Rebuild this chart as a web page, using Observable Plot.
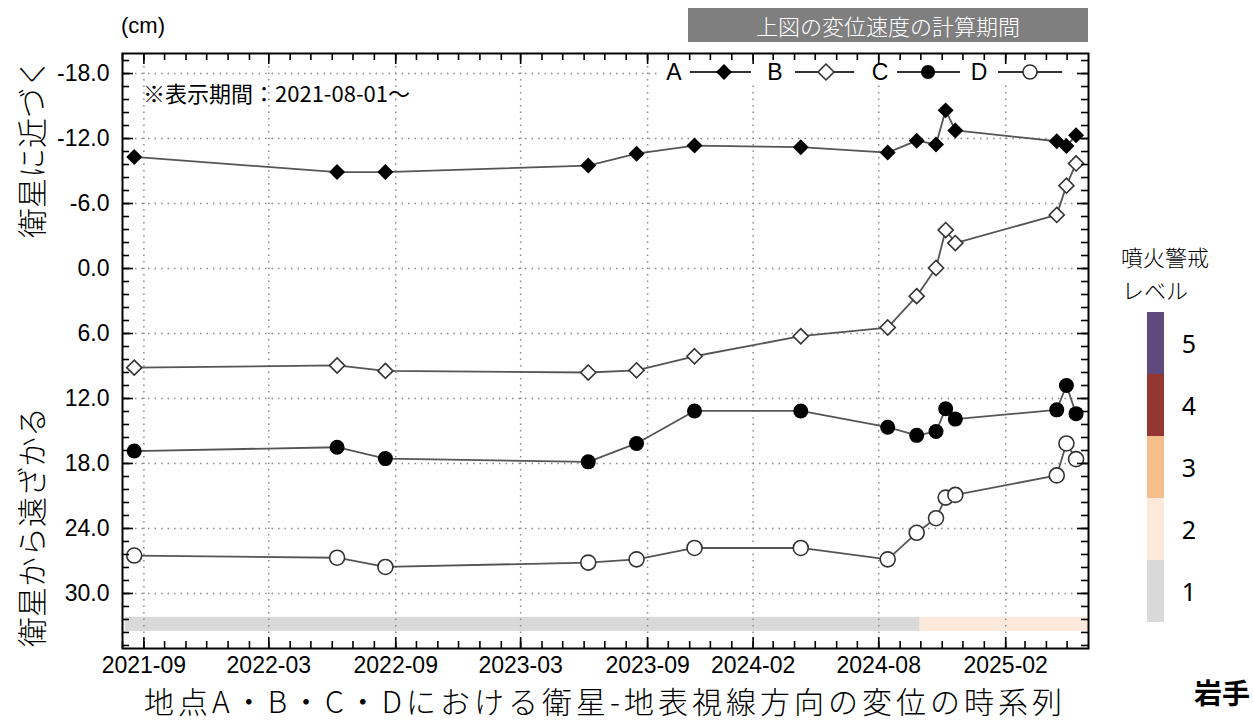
<!DOCTYPE html>
<html><head><meta charset="utf-8">
<script src="https://cdn.jsdelivr.net/npm/d3@7"></script>
<script src="https://cdn.jsdelivr.net/npm/@observablehq/plot@0.6"></script>
<style>
html,body{margin:0;padding:0;background:#fff;overflow:hidden;}
#root{position:relative;width:1253px;height:722px;overflow:hidden;}
#chart{position:absolute;left:0;top:0;}
#overlay{position:absolute;left:0;top:0;pointer-events:none;}
</style></head>
<body><div id="root"><div id="chart"></div><svg id="overlay" width="1253" height="722"></svg></div>
<script>
// ---- data ----
const dates = ["2021-08-18","2022-06-08","2022-08-17","2023-06-07","2023-08-16","2023-11-08","2024-04-10","2024-08-14","2024-09-25","2024-10-23","2024-11-06","2024-11-20","2025-04-16","2025-04-30","2025-05-14"];
const seriesA = [-10.3,-8.9,-8.9,-9.5,-10.6,-11.35,-11.2,-10.7,-11.8,-11.45,-14.6,-12.75,-11.75,-11.3,-12.3];
const seriesB = [9.15,8.95,9.45,9.6,9.4,8.1,6.25,5.45,2.55,-0.05,-3.55,-2.35,-4.95,-7.65,-9.7];
const seriesC = [16.85,16.5,17.55,17.85,16.15,13.15,13.15,14.65,15.4,15.05,12.95,13.9,13.05,10.8,13.4];
const seriesD = [26.5,26.7,27.55,27.15,26.85,25.8,25.8,26.85,24.4,23.05,21.15,20.9,19.1,16.15,17.6];
const seriesNames = ["A","B","C","D"];
const yTicks = [-18,-12,-6,0,6,12,18,24,30];
const xTickLabels = ["2021-09","2022-03","2022-09","2023-03","2023-09","2024-02","2024-08","2025-02"];
const levelStarts = ["2021-08-05","2024-09-30"];
const levelEnds = ["2024-09-30","2025-05-31"];
const levelValues = [1,2];
const levelNames = ["1","2","3","4","5"];
const levelColors = ["#d9d9d9","#fde9dc","#f6bd8d","#943632","#5e4a7c"];

// ---- build ----
const parse = d3.utcParse("%Y-%m-%d");
const seriesVals = {A: seriesA, B: seriesB, C: seriesC, D: seriesD};
const rows = seriesNames.flatMap(s => dates.map((d,i) => ({series: s, date: parse(d), value: seriesVals[s][i]})));
const levels = levelValues.map((lv,i) => ({level: lv, start: parse(levelStarts[i]), end: parse(levelEnds[i])}));
const xMajor = xTickLabels.map(s => d3.utcParse("%Y-%m")(s));
const xDomain = [parse("2021-08-01"), parse("2025-06-01")];
const xMinor = d3.utcMonth.range(xDomain[0], xDomain[1]);
const yMinor = d3.range(-19.2, 35, 1.2).map(v => +v.toFixed(1));

const W = 1253, H = 722, mL = 122, mR = 165, mT = 53, mB = 74;
const fw = W - mL - mR, fh = H - mT - mB;
const grid = {stroke: "#8a8a8a", strokeWidth: 1.5, strokeDasharray: "1.5,5"};
const tk = {stroke: "black", strokeWidth: 1.6};
const rDia = 7.2, rCir = 7.5;

const chart = Plot.plot({
  width: W, height: H,
  marginLeft: mL, marginRight: mR, marginTop: mT, marginBottom: mB,
  style: {fontFamily: "'Liberation Sans', Arial, sans-serif", fontSize: "23px", color: "black", background: "white"},
  x: {type: "utc", domain: xDomain},
  y: {domain: [-19.85, 35.08], reverse: true},
  marks: [
    Plot.rect(levels, {x1: "start", x2: "end", y1: 32.2, y2: 33.5, fill: d => levelColors[d.level - 1]}),
    Plot.ruleY(yTicks, grid),
    Plot.ruleX(xMajor, grid),
    Plot.line(rows, {x: "date", y: "value", z: "series", stroke: "#555", strokeWidth: 1.8}),
    Plot.dot(rows.filter(d => d.series === "A"), {x: "date", y: "value", symbol: "diamond2", r: rDia, fill: "black"}),
    Plot.dot(rows.filter(d => d.series === "B"), {x: "date", y: "value", symbol: "diamond2", r: rDia - 0.4, fill: "white", stroke: "#333", strokeWidth: 1.6}),
    Plot.dot(rows.filter(d => d.series === "C"), {x: "date", y: "value", r: rCir, fill: "black"}),
    Plot.dot(rows.filter(d => d.series === "D"), {x: "date", y: "value", r: rCir, fill: "white", stroke: "#333", strokeWidth: 1.6}),
    Plot.tickY(yMinor, {y: d => d, insetRight: fw - 7, ...tk}),
    Plot.tickY(yTicks, {y: d => d, insetRight: fw - 11, ...tk}),
    Plot.tickY(yMinor, {y: d => d, insetLeft: fw - 7, ...tk}),
    Plot.tickY(yTicks, {y: d => d, insetLeft: fw - 11, ...tk}),
    Plot.tickX(xMinor, {x: d => d, insetTop: fh - 7, ...tk}),
    Plot.tickX(xMajor, {x: d => d, insetTop: fh - 11, ...tk}),
    Plot.tickX(xMinor, {x: d => d, insetBottom: fh - 7, ...tk}),
    Plot.tickX(xMajor, {x: d => d, insetBottom: fh - 11, ...tk}),
    Plot.frame({stroke: "black", strokeWidth: 2}),
    Plot.axisY({ticks: yTicks, tickSize: 0, tickPadding: 13, tickFormat: d => d.toFixed(1), label: null, fontSize: 23}),
    Plot.axisX({ticks: xMajor, tickSize: 0, tickPadding: 8, tickFormat: d3.utcFormat("%Y-%m"), label: null, fontSize: 23})
  ]
});
document.getElementById("chart").appendChild(chart);

// ---- overlay texts / legends ----
const jp = "'Noto Sans CJK JP', 'Noto Sans', sans-serif";
const ar = "'Liberation Sans', Arial, sans-serif";
const ov = d3.select("#overlay");

// title box
ov.append("rect").attr("x", 688).attr("y", 8).attr("width", 400).attr("height", 34).attr("fill", "#7f7f7f");
ov.append("text").attr("x", 888).attr("y", 25).attr("text-anchor", "middle").attr("dominant-baseline", "central")
  .attr("fill", "white").attr("font-family", jp).attr("font-size", 22).attr("font-weight", 300).text("上図の変位速度の計算期間");

ov.append("text").attr("x", 121).attr("y", 33).attr("font-family", ar).attr("font-size", 22).text("(cm)");
ov.append("text").attr("x", 143).attr("y", 102).attr("font-family", jp).attr("font-size", 22).text("※表示期間：2021-08-01〜");

// in-plot legend
ov.append("rect").attr("x", 660).attr("y", 64).attr("width", 412).attr("height", 21).attr("fill", "white");
const legendItems = [
  {name: seriesNames[0], tx: 674, l1: 690, l2: 751, m: 724},
  {name: seriesNames[1], tx: 775, l1: 795, l2: 854, m: 826},
  {name: seriesNames[2], tx: 880, l1: 897, l2: 960, m: 928},
  {name: seriesNames[3], tx: 979, l1: 998, l2: 1062, m: 1030}
];
const ly = 72;
legendItems.forEach(it => {
  ov.append("text").attr("x", it.tx).attr("y", ly).attr("text-anchor", "middle").attr("dominant-baseline", "central")
    .attr("font-family", ar).attr("font-size", 23).text(it.name);
  ov.append("line").attr("x1", it.l1).attr("x2", it.l2).attr("y1", ly).attr("y2", ly).attr("stroke", "#333").attr("stroke-width", 1.8);
  const filled = it.name === "A" || it.name === "C";
  const diamond = it.name === "A" || it.name === "B";
  const sym = d3.symbol().type(diamond ? d3.symbolDiamond2 : d3.symbolCircle).size(diamond ? Math.PI * rDia * rDia : Math.PI * 49);
  ov.append("path").attr("d", sym()).attr("transform", `translate(${it.m},${ly})`)
    .attr("fill", filled ? "black" : "white").attr("stroke", filled ? "none" : "#333").attr("stroke-width", 1.6);
});

// axis titles
ov.append("text").attr("transform", "translate(30,148) rotate(-90)").attr("text-anchor", "middle").attr("dominant-baseline", "central")
  .attr("font-family", jp).attr("font-size", 30).attr("font-weight", 300).text("衛星に近づく");
ov.append("text").attr("transform", "translate(30,527) rotate(-90)").attr("text-anchor", "middle").attr("dominant-baseline", "central")
  .attr("font-family", jp).attr("font-size", 30).attr("font-weight", 300).text("衛星から遠ざかる");
ov.append("text").attr("x", mL + fw / 2).attr("y", 713).attr("text-anchor", "middle")
  .attr("font-family", jp).attr("font-size", 30).attr("letter-spacing", 4).attr("font-weight", 300).text("地点A・B・C・Dにおける衛星-地表視線方向の変位の時系列");

// alert level colour bar
ov.append("text").attr("x", 1121).attr("y", 256).attr("dominant-baseline", "central").attr("font-family", jp).attr("font-size", 22).attr("font-weight", 300).text("噴火警戒");
ov.append("text").attr("x", 1122).attr("y", 289).attr("dominant-baseline", "central").attr("font-family", jp).attr("font-size", 22).attr("font-weight", 300).text("レベル");
levelNames.forEach((nm, i) => {
  const y0 = 312 + (levelNames.length - 1 - i) * 62;
  ov.append("rect").attr("x", 1147).attr("y", y0).attr("width", 17).attr("height", 62).attr("fill", levelColors[i]);
  ov.append("text").attr("x", 1189).attr("y", y0 + 31).attr("text-anchor", "middle").attr("dominant-baseline", "central")
    .attr("font-family", "'Noto Sans', 'Open Sans', sans-serif").attr("font-size", 25).text(nm);
});
ov.append("text").attr("x", 1194).attr("y", 704).attr("font-family", jp).attr("font-size", 28).attr("font-weight", 700).text("岩手");
</script>
</body></html>
